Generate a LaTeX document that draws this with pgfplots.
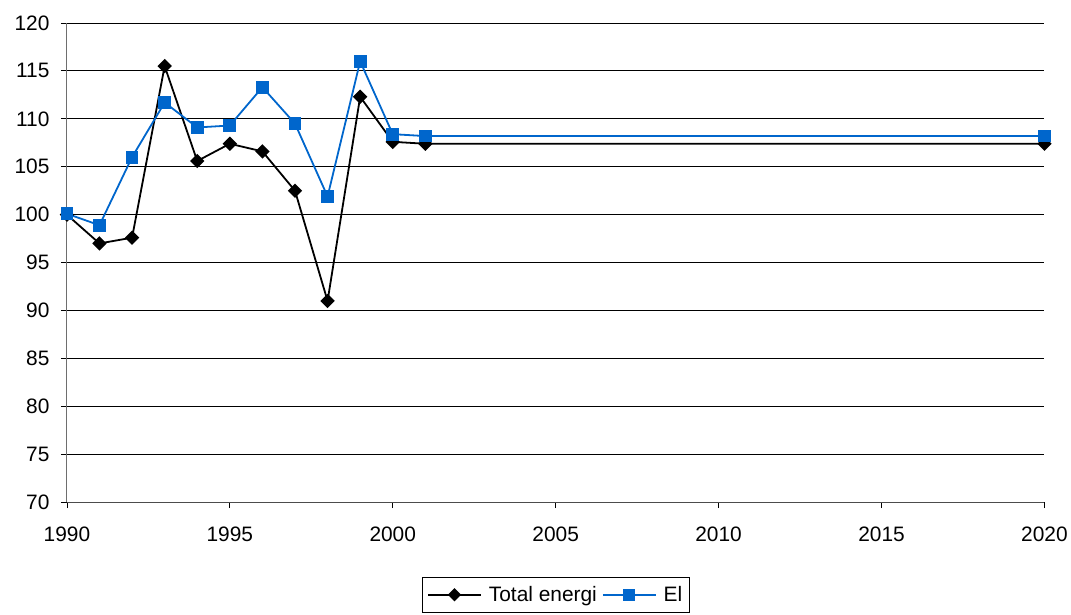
\documentclass[border=0pt]{standalone}
\usepackage{pgfplots}
\pgfplotsset{compat=1.18}
\usepackage{fontspec}
\setmainfont{Liberation Sans}
\usetikzlibrary{calc}
\definecolor{elblue}{RGB}{0,102,204}
\definecolor{axgray}{RGB}{110,110,110}

\begin{document}
\begin{tikzpicture}
\begin{axis}[
  scale only axis,
  width=979bp, height=480bp,
  xmin=1990, xmax=2020,
  ymin=70, ymax=120,
  xtick={1990,1995,...,2020},
  ytick={70,75,...,120},
  axis lines=left,
  axis line style={-, axgray, line width=1.2pt},
  x axis line style={-, black!70, line width=1pt},
  tick style={black, line width=0.8pt},
  major tick length=6bp,
  tick align=outside,
  ymajorgrids,
  grid style={black, line width=0.8pt},
  /pgf/number format/set thousands separator={},
  /pgf/number format/assume math mode=true,
  tick label style={font=\fontsize{21}{24}\selectfont},
  xticklabel style={yshift=-15bp},
  yticklabel style={xshift=-8bp},
  clip=false,
  legend style={
    at={(rel axis cs:0.5,-0.156)}, anchor=north,
    legend columns=-1,
    draw=black, line width=0.8pt,
    font=\fontsize{21}{24}\selectfont,
    inner xsep=5bp, inner ysep=7bp,
    /tikz/every even column/.append style={column sep=3bp},
    /tikz/every odd column/.append style={column sep=5bp},
  },
  legend image code/.code={
    \draw[#1, mark=none] (0bp,0bp) -- (53bp,0bp);
    \draw[#1, only marks, mark size=0.9*\pgfplotmarksize] plot coordinates {(26.5bp,0bp)};
  },
]
% total energy: black rotated squares (diamonds)
\addplot[black, line width=1.8bp, mark=square*, mark size=4.2bp,
  mark options={solid, fill=black, rotate=45}] coordinates {
  (1990,100.0) (1991,97.0) (1992,97.6) (1993,115.5) (1994,105.6)
  (1995,107.4) (1996,106.6) (1997,102.5) (1998,91.0) (1999,112.3)
  (2000,107.6) (2001,107.4) (2020,107.4)
};
\addlegendentry{Total energi}
\addplot[elblue, line width=1.8bp, mark=square*, mark size=5.5bp,
  mark options={solid, fill=elblue}] coordinates {
  (1990,100.1) (1991,98.9) (1992,106.0) (1993,111.7) (1994,109.1)
  (1995,109.3) (1996,113.3) (1997,109.5) (1998,101.9) (1999,116.0)
  (2000,108.4) (2001,108.2) (2020,108.2)
};
\addlegendentry{El}
\coordinate (tl) at (rel axis cs:0,1);
\coordinate (br) at (rel axis cs:1,0);
\end{axis}
\path ($(tl)+(-67bp,23bp)$) ($(br)+(25bp,-112bp)$);
\end{tikzpicture}
\end{document}
